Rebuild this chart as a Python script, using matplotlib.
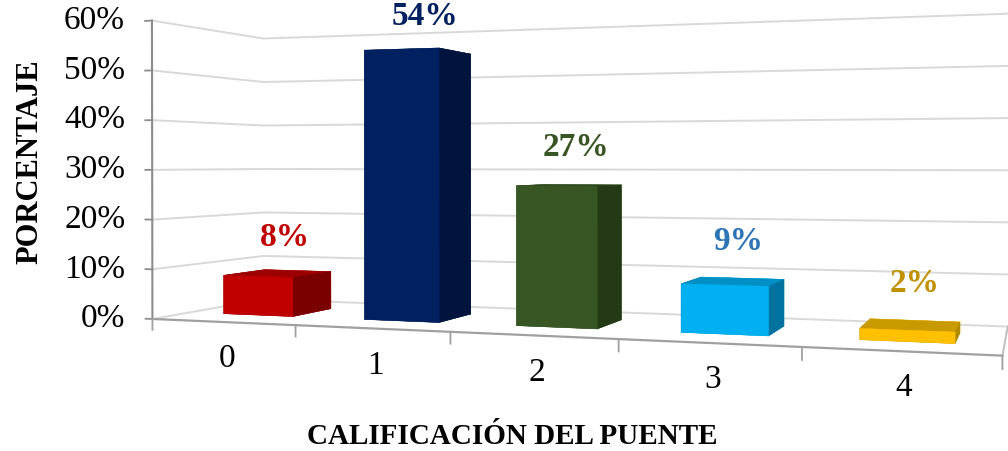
import numpy as np
import matplotlib
matplotlib.use("Agg")
import matplotlib.pyplot as plt
from mpl_toolkits.mplot3d import proj3d

# data
categories = ['0', '1', '2', '3', '4']
values = [0.08, 0.54, 0.27, 0.09, 0.02]
value_labels = ['8%', '54%', '27%', '9%', '2%']
yticks = [0.0, 0.1, 0.2, 0.3, 0.4, 0.5, 0.6]
ytick_labels = ['0%', '10%', '20%', '30%', '40%', '50%', '60%']

front_colors = ['#C00000', '#002060', '#375623', '#00B0F0', '#FFC000']
side_colors = ['#7A0000', '#00143E', '#243915', '#0072A0', '#B28A00']
top_colors = ['#9C0000', '#001A50', '#2E4A1D', '#0090C6', '#C99A00']
label_colors = ['#C00000', '#002060', '#375623', '#2E75B6', '#BF9000']

plt.rcParams['font.family'] = ['Liberation Serif', 'DejaVu Serif']

fig = plt.figure(figsize=(10.08, 4.51), dpi=100)
S = 884  # square 3d axes, in pixels
ax = fig.add_axes([116 / 1008, -173 / 451, S / 1008, S / 451],
                  projection='3d', computed_zorder=False)
n = len(values)
ax.set_xlim(0, n)
ax.set_ylim(0, 1)
ax.set_zlim(0, 0.6)
ax.set_box_aspect((2.72, 0.70, 1.0))
ax.view_init(elev=0.3, azim=-71.2)
ax.set_proj_type('persp', focal_length=0.2877)
ax.set_axis_off()

# walls: side wall + back wall gridlines
for v in yticks:
    ax.plot([0, 0, n], [0, 1, 1], [v, v, v], color='#D9D9D9', lw=1.4,
            zorder=1, clip_on=False)
ax.plot([n, n], [0, 1], [0, 0], color='#BFBFBF', lw=1.4, zorder=1, clip_on=False)

# value axis line + ticks
ax.plot([0, 0], [0, 0], [0, 0.6], color='#8C8C8C', lw=1.5, zorder=2, clip_on=False)
for v in yticks:
    ax.plot([-0.05, 0], [0, 0], [v, v], color='#8C8C8C', lw=1.3, zorder=2, clip_on=False)

# category axis (front floor edge) + ticks
ax.plot([0, n], [0, 0], [0, 0], color='#A0A0A0', lw=1.6, zorder=2, clip_on=False)
for k in range(n + 1):
    ax.plot([k, k], [0, 0], [0, -0.022], color='#A0A0A0', lw=1.3, zorder=2, clip_on=False)

# bars
bar_w = 0.5
bar_d = 0.38
y0 = 0.31
face_colors = []
for i in range(n):
    # order: bottom, top, front, back, left, right
    face_colors += [top_colors[i], top_colors[i], front_colors[i],
                    front_colors[i], side_colors[i], side_colors[i]]
xs = np.arange(n) + 0.5 - bar_w / 2
bars = ax.bar3d(xs, np.full(n, y0), np.zeros(n), bar_w, bar_d, values,
                color=face_colors, shade=False, zorder=3, linewidth=0.3,
                edgecolor=face_colors)
bars.set_clip_on(False)

# texts are placed as plain 2d annotations at the projected 3d anchor
M = ax.get_proj()


def label_at(x, y, z, s, dx=0, dy=0, **kw):
    xp, yp, _ = proj3d.proj_transform(x, y, z, M)
    ax.annotate(s, (xp, yp), xytext=(dx, dy), textcoords='offset pixels',
                annotation_clip=False, zorder=5, **kw)


# data labels
for i in range(n):
    label_at(i + 0.5, y0 + bar_d * 0.6, values[i] + 0.075, value_labels[i],
             dx=3, ha='center', va='center', color=label_colors[i],
             fontsize=24, fontweight='bold')

# tick labels
for v, lab in zip(yticks, ytick_labels):
    label_at(0, 0, v, lab, dx=-27, ha='right', va='center', fontsize=24)
for i, c in enumerate(categories):
    label_at(i + 0.5, 0, 0, c, dx=4, dy=-37, ha='center', va='center', fontsize=24)

fig.text(30 / 1008, 1 - 162 / 451, 'PORCENTAJE', rotation=90, ha='center',
         va='center', fontsize=22, fontweight='bold')
fig.text(512 / 1008, 1 - 437 / 451, 'CALIFICACIÓN DEL PUENTE', ha='center',
         va='center', fontsize=21, fontweight='bold')

fig.savefig('out.png', dpi=100)
